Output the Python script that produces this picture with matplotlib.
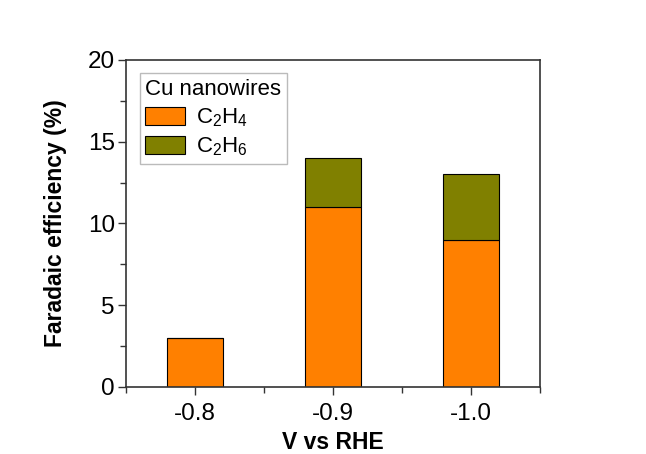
import matplotlib
matplotlib.use("Agg")
import matplotlib.pyplot as plt
from matplotlib.ticker import MultipleLocator

# data
potentials = ["-0.8", "-0.9", "-1.0"]
c2h4 = [3, 11, 9]
c2h6 = [0, 3, 4]

plt.rcParams["font.family"] = ["Liberation Sans", "DejaVu Sans"]
plt.rcParams["mathtext.fontset"] = "custom"
plt.rcParams["mathtext.rm"] = "Liberation Sans"

fig = plt.figure(figsize=(6.46, 4.54), dpi=100)
ax = fig.add_axes([0.195, 0.148, 0.641, 0.72])

x = list(range(len(potentials)))
ax.bar(x, c2h4, width=0.4, color="#FF8000", edgecolor="black", linewidth=0.8,
       label=r"$\mathrm{C_2H_4}$")
ax.bar(x, c2h6, width=0.4, bottom=c2h4, color="#808000", edgecolor="black",
       linewidth=0.8, label=r"$\mathrm{C_2H_6}$")

ax.set_xlim(-0.5, 2.5)
ax.set_ylim(0, 20)
ax.set_xticks(x)
ax.set_xticklabels(potentials)
ax.set_xticks([-0.5, 0.5, 1.5, 2.5], minor=True)
ax.yaxis.set_major_locator(MultipleLocator(5))
ax.yaxis.set_minor_locator(MultipleLocator(2.5))
ax.tick_params(which="both", direction="out", labelsize=17.5, width=1, color="#333333")
ax.tick_params(which="major", length=6)
ax.tick_params(which="minor", length=4)
ax.tick_params(axis="y", pad=2)
ax.tick_params(axis="x", pad=6)
for s in ax.spines.values():
    s.set_linewidth(1.2)
    s.set_color("#333333")

ax.set_xlabel("V vs RHE", fontsize=16.5, fontweight="bold", labelpad=4)
ax.set_ylabel("Faradaic efficiency (%)", fontsize=16.5, fontweight="bold", labelpad=15)

leg = ax.legend(title="Cu nanowires", loc="upper left", bbox_to_anchor=(0.006, 0.993),
                fontsize=16, title_fontsize=16, frameon=True, fancybox=False,
                handlelength=1.8, handleheight=0.9, handletextpad=0.5,
                labelspacing=0.3, borderpad=0.25)
leg.get_frame().set_edgecolor("#aaaaaa")
leg._legend_box.align = "left"

fig.savefig("out.png", dpi=100)
